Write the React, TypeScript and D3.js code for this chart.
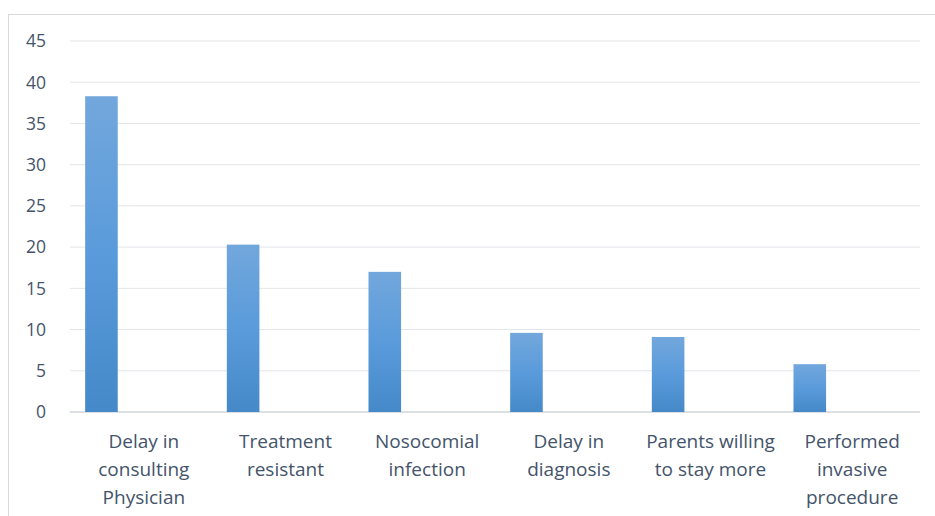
import * as d3 from 'd3';

const categories = [
  ['Delay in', 'consulting', 'Physician'],
  ['Treatment', 'resistant'],
  ['Nosocomial', 'infection'],
  ['Delay in', 'diagnosis'],
  ['Parents willing', 'to stay more'],
  ['Performed', 'invasive', 'procedure'],
];
const values = [38.3, 20.3, 17.0, 9.6, 9.1, 5.8];
const yTicks = [0, 5, 10, 15, 20, 25, 30, 35, 40, 45];

const W = 935;
const H = 516;
const M = { top: 41, right: 15, bottom: 104, left: 70 };

export default function App() {
  const x = d3
    .scaleBand<number>()
    .domain(d3.range(categories.length))
    .range([M.left, W - M.right]);
  const y = d3.scaleLinear([0, 45], [H - M.bottom, M.top]);
  const barW = x.bandwidth() * 0.23;
  const font = '"Open Sans", Lato, sans-serif';
  const textColor = '#44546a';

  return (
    <svg
      width={W}
      height={H}
      style={{ position: 'absolute', left: 0, top: 0, background: '#fff' }}
    >
      <defs>
        <linearGradient id="barGrad" x1="0" y1="0" x2="0" y2="1">
          <stop offset="0%" stopColor="#72a7dc" />
          <stop offset="50%" stopColor="#5a9bdb" />
          <stop offset="100%" stopColor="#4589c8" />
        </linearGradient>
      </defs>
      <rect x={8.5} y={14.5} width={W} height={H} fill="none" stroke="#d9d9d9" />

      {yTicks.map(t => (
        <g key={t}>
          <line
            x1={M.left}
            x2={W - M.right}
            y1={y(t)}
            y2={y(t)}
            stroke={t === 0 ? '#d0d4da' : '#e1e4e8'}
            strokeWidth={t === 0 ? 1.5 : 1}
          />
          <text
            x={46}
            y={y(t)}
            dy="0.36em"
            textAnchor="end"
            fontFamily={font}
            fontSize={17.5}
            fill={textColor}
          >
            {t}
          </text>
        </g>
      ))}

      {values.map((v, i) => (
        <rect
          key={i}
          x={(x(i) ?? 0) + x.bandwidth() * 0.107}
          y={y(v)}
          width={barW}
          height={y(0) - y(v)}
          fill="url(#barGrad)"
        />
      ))}

      {categories.map((lines, i) => (
        <text
          key={i}
          x={(x(i) ?? 0) + x.bandwidth() / 2 + 3}
          y={H - M.bottom + 36}
          textAnchor="middle"
          fontFamily={font}
          fontSize={19}
          fill={textColor}
        >
          {lines.map((l, j) => (
            <tspan key={j} x={(x(i) ?? 0) + x.bandwidth() / 2 + 3} dy={j === 0 ? 0 : 28}>
              {l}
            </tspan>
          ))}
        </text>
      ))}
    </svg>
  );
}
